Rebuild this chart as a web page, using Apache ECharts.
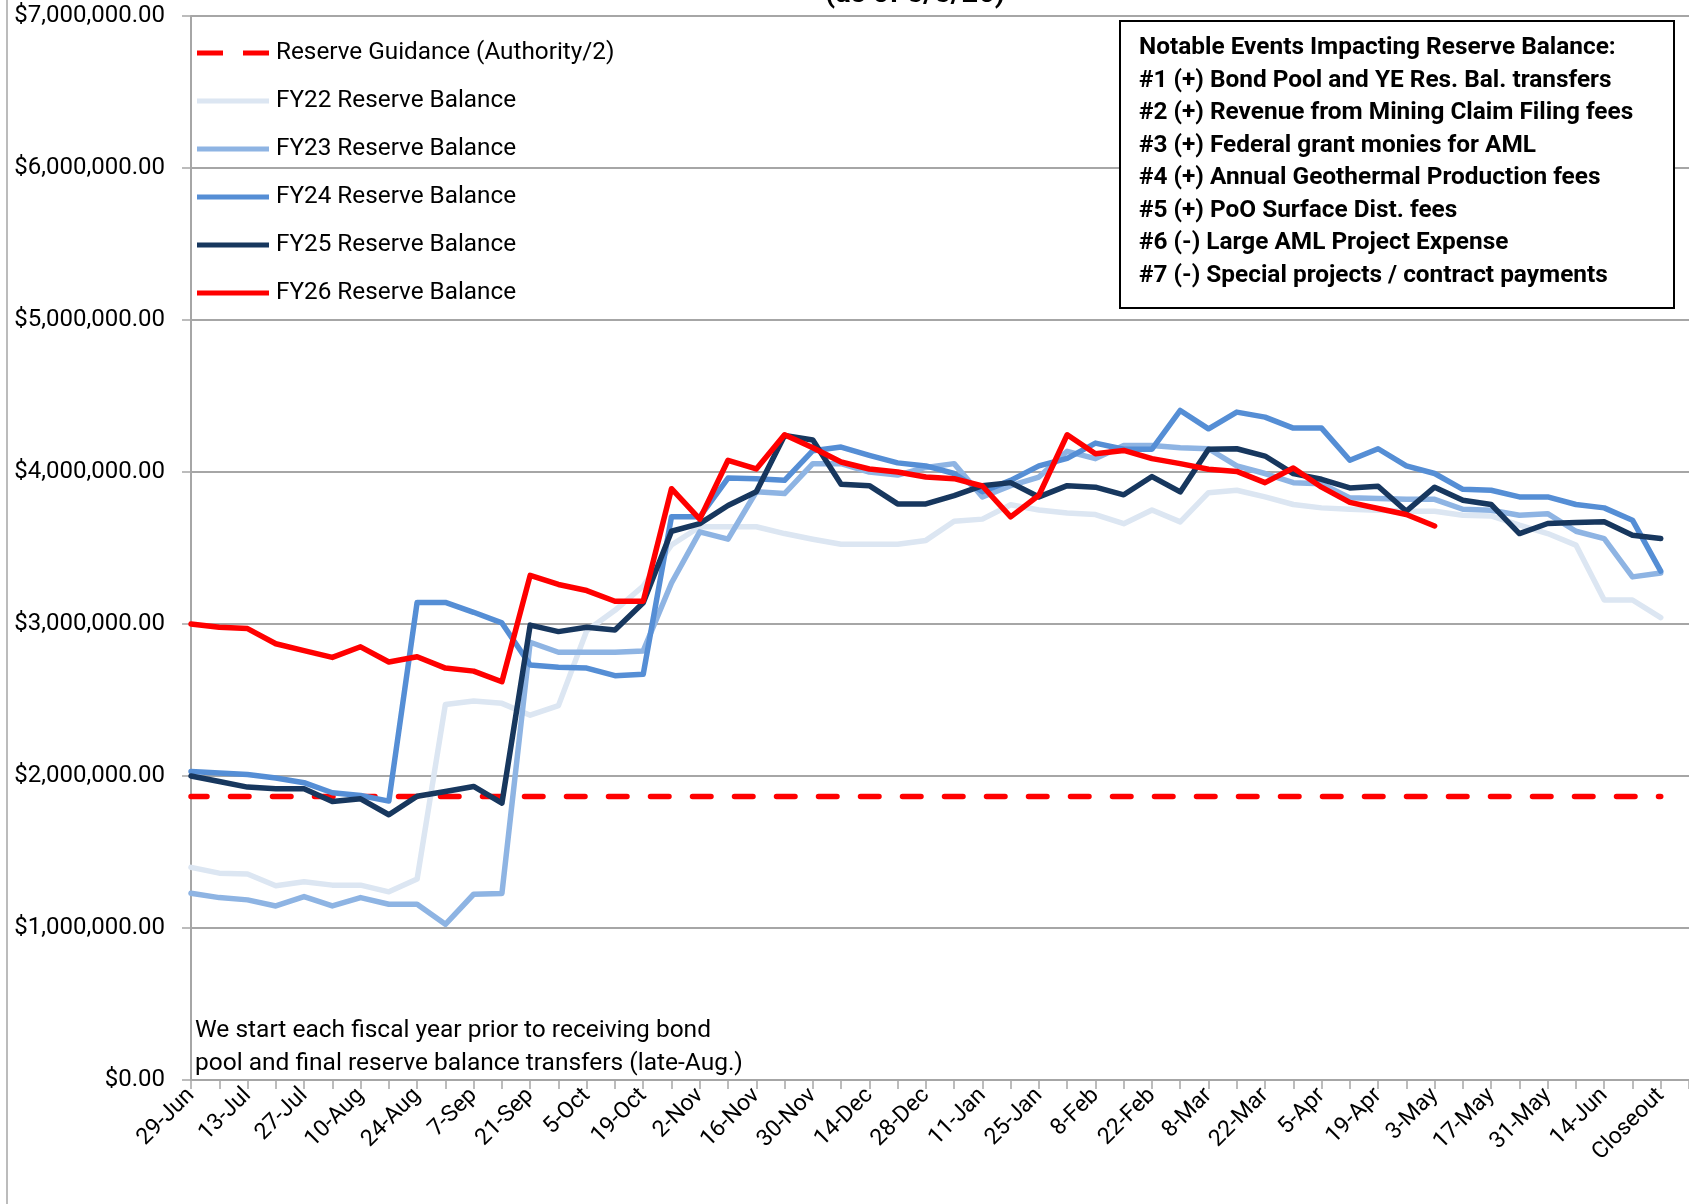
<!DOCTYPE html>
<html>
<head>
<meta charset="utf-8">
<script src="https://cdn.jsdelivr.net/npm/echarts@6/dist/echarts.min.js"></script>
<style>
  html, body { margin: 0; padding: 0; background: #fff; }
  #main { width: 1689px; height: 1204px; }
</style>
</head>
<body>
<div id="main"></div>
<script>
// week labels (one point per week, label shown every other week)
const weeks = ['29-Jun','6-Jul','13-Jul','20-Jul','27-Jul','3-Aug','10-Aug','17-Aug','24-Aug','31-Aug',
  '7-Sep','14-Sep','21-Sep','28-Sep','5-Oct','12-Oct','19-Oct','26-Oct','2-Nov','9-Nov',
  '16-Nov','23-Nov','30-Nov','7-Dec','14-Dec','21-Dec','28-Dec','4-Jan','11-Jan','18-Jan',
  '25-Jan','1-Feb','8-Feb','15-Feb','22-Feb','1-Mar','8-Mar','15-Mar','22-Mar','29-Mar',
  '5-Apr','12-Apr','19-Apr','26-Apr','3-May','10-May','17-May','24-May','31-May','7-Jun',
  '14-Jun','21-Jun','Closeout'];

const guidance = [1865000,1865000,1865000,1865000,1865000,1865000,1865000,1865000,1865000,1865000,
  1865000,1865000,1865000,1865000,1865000,1865000,1865000,1865000,1865000,1865000,
  1865000,1865000,1865000,1865000,1865000,1865000,1865000,1865000,1865000,1865000,
  1865000,1865000,1865000,1865000,1865000,1865000,1865000,1865000,1865000,1865000,
  1865000,1865000,1865000,1865000,1865000,1865000,1865000,1865000,1865000,1865000,
  1865000,1865000,1865000];

const fy22 = [1399000,1361000,1355000,1278000,1304000,1282000,1282000,1238000,1322000,2471000,2493000,2478000,
  2400000,2463000,2956000,3090000,3250000,3520000,3640000,3640000,3640000,3595000,
  3558000,3525000,3525000,3525000,3550000,3676000,3690000,3785000,3750000,3730000,
  3720000,3660000,3750000,3672000,3864000,3880000,3836000,3786000,3764000,3755000,
  3748000,3742000,3742000,3716000,3711000,3650000,3595000,3519000,3158000,3158000,3042000];

const fy23 = [1229000,1200000,1185000,1145000,1207000,1145000,1200000,1156000,1156000,1024000,1222000,1227000,
  2880000,2814000,2814000,2814000,2823000,3270000,3606000,3558000,3870000,3858000,
  4055000,4055000,4000000,3980000,4030000,4055000,3836000,3910000,3967000,4136000,
  4088000,4175000,4175000,4160000,4153000,4040000,3990000,3930000,3923000,3830000,
  3825000,3820000,3820000,3755000,3748000,3716000,3726000,3610000,3562000,3310000,3335000];

const fy24 = [2030000,2020000,2010000,1987000,1956000,1890000,1872000,1835000,3142000,3142000,3077000,3007000,
  2730000,2715000,2710000,2660000,2670000,3705000,3705000,3960000,3956000,3945000,
  4140000,4164000,4110000,4060000,4040000,3990000,3870000,3945000,4040000,4090000,
  4190000,4150000,4150000,4405000,4284000,4394000,4361000,4289000,4289000,4077000,
  4153000,4040000,3990000,3886000,3880000,3836000,3836000,3786000,3764000,3683000,3348000];

const fy25 = [2000000,1964000,1927000,1916000,1916000,1832000,1850000,1745000,1867000,1898000,1931000,1821000,
  2993000,2950000,2978000,2960000,3140000,3610000,3660000,3780000,3870000,4240000,
  4210000,3920000,3910000,3790000,3790000,3845000,3910000,3930000,3836000,3910000,
  3900000,3850000,3970000,3869000,4149000,4153000,4105000,3989000,3952000,3895000,
  3906000,3742000,3900000,3814000,3786000,3595000,3661000,3667000,3672000,3584000,3562000];

const fy26 = [3000000,2978000,2970000,2870000,2825000,2780000,2850000,2750000,2785000,2710000,2690000,2620000,
  3320000,3260000,3220000,3150000,3150000,3890000,3690000,4077000,4020000,4245000,
  4160000,4066000,4020000,4000000,3967000,3956000,3908000,3705000,3847000,4245000,
  4120000,4142000,4088000,4055000,4018000,4004000,3930000,4026000,3900000,3800000,
  3760000,3720000,3645000,null,null,null,null,null,null,null,null];

const yTicks = [0, 1000000, 2000000, 3000000, 4000000, 5000000, 6000000, 7000000];

const events = [
  'Notable Events Impacting Reserve Balance:',
  '#1 (+) Bond Pool and YE Res. Bal. transfers',
  '#2 (+) Revenue from Mining Claim Filing fees',
  '#3 (+) Federal grant monies for AML',
  '#4 (+) Annual Geothermal Production fees',
  '#5 (+) PoO Surface Dist. fees',
  '#6 (-) Large AML Project Expense',
  '#7 (-) Special projects / contract payments'
];

const note = 'We start each fiscal year prior to receiving bond\npool and final reserve balance transfers (late-Aug.)';

const FONT = 'Roboto';
const SOLID_ICON = 'path://M0,0h72v5h-72z';
const DASH_ICON = 'path://M0,0h26v5h-26zM46,0h26v5h-26z';

function lineSeries(name, data, color) {
  return {
    name: name,
    type: 'line',
    data: data,
    symbol: 'none',
    smooth: false,
    connectNulls: false,
    lineStyle: { color: color, width: 5.5, cap: 'round', join: 'round' },
    itemStyle: { color: color }
  };
}

const chart = echarts.init(document.getElementById('main'));
chart.setOption({
  animation: false,
  backgroundColor: '#fff',
  textStyle: { fontFamily: FONT },
  grid: { left: 191, right: 0, top: 16, bottom: 124, containLabel: false },
  legend: {
    orient: 'vertical',
    left: 197,
    top: 41,
    padding: 0,
    itemWidth: 72,
    itemHeight: 5,
    itemGap: 24,
    textStyle: { fontFamily: FONT, fontSize: 24.3, color: '#000', lineHeight: 24, padding: [0, 0, 0, 2] },
    data: [
      { name: 'Reserve Guidance (Authority/2)', icon: DASH_ICON },
      { name: 'FY22 Reserve Balance', icon: SOLID_ICON },
      { name: 'FY23 Reserve Balance', icon: SOLID_ICON },
      { name: 'FY24 Reserve Balance', icon: SOLID_ICON },
      { name: 'FY25 Reserve Balance', icon: SOLID_ICON },
      { name: 'FY26 Reserve Balance', icon: SOLID_ICON }
    ]
  },
  xAxis: {
    type: 'category',
    boundaryGap: false,
    data: weeks.concat(['']),
    axisLine: { lineStyle: { color: '#a6a6a6', width: 2 } },
    axisTick: { show: true, interval: 0, length: 9, lineStyle: { color: '#a6a6a6', width: 1.5 } },
    axisLabel: {
      interval: 1,
      rotate: 45,
      margin: 12,
      fontFamily: FONT,
      fontSize: 23,
      color: '#000'
    },
    splitLine: { show: false }
  },
  yAxis: {
    type: 'value',
    min: yTicks[0],
    max: yTicks[yTicks.length - 1],
    interval: 1000000,
    axisLine: { show: true, lineStyle: { color: '#a6a6a6', width: 2 } },
    axisTick: { show: true, length: 9, lineStyle: { color: '#a6a6a6', width: 1.5 } },
    axisLabel: {
      margin: 26,
      fontFamily: FONT,
      fontSize: 24,
      color: '#000',
      formatter: function (v) {
        return '$' + v.toLocaleString('en-US', { minimumFractionDigits: 2, maximumFractionDigits: 2 });
      }
    },
    splitLine: { show: true, lineStyle: { color: '#a6a6a6', width: 2 } }
  },
  series: [
    {
      name: 'Reserve Guidance (Authority/2)',
      type: 'line',
      data: guidance,
      symbol: 'none',
      lineStyle: { color: '#ff0000', width: 5.5, type: [18.5, 23.5], dashOffset: 2.5, cap: 'round' },
      itemStyle: { color: '#ff0000' }
    },
    lineSeries('FY22 Reserve Balance', fy22, '#dce6f2'),
    lineSeries('FY23 Reserve Balance', fy23, '#8eb4e3'),
    lineSeries('FY24 Reserve Balance', fy24, '#558ed5'),
    lineSeries('FY25 Reserve Balance', fy25, '#17375e'),
    lineSeries('FY26 Reserve Balance', fy26, '#ff0000')
  ],
  graphic: [
    // chart area border at the far left
    { type: 'line', shape: { x1: 7, y1: 0, x2: 7, y2: 1204 }, style: { stroke: '#a6a6a6', lineWidth: 1.5 }, z: 10 },
    // title, cut off by the top edge
    {
      type: 'text', x: 915, y: -5,
      style: { text: '(as of 5/5/26)', font: 'bold 29px ' + FONT, fill: '#000', align: 'center', verticalAlign: 'middle' },
      z: 10
    },
    // notable events box
    {
      type: 'rect', shape: { x: 1120, y: 21, width: 554, height: 287 },
      style: { fill: '#fff', stroke: '#000', lineWidth: 2 }, z: 10
    },
    {
      type: 'text', x: 1139, y: 32,
      style: { text: events.join('\n'), font: 'bold 24.4px ' + FONT, lineHeight: 32.5, fill: '#000', verticalAlign: 'top' },
      z: 11
    },
    // note bottom left
    {
      type: 'text', x: 195, y: 1015,
      style: { text: note, font: '24.5px ' + FONT, lineHeight: 32.5, fill: '#000', verticalAlign: 'top' },
      z: 11
    }
  ]
});
</script>
</body>
</html>
